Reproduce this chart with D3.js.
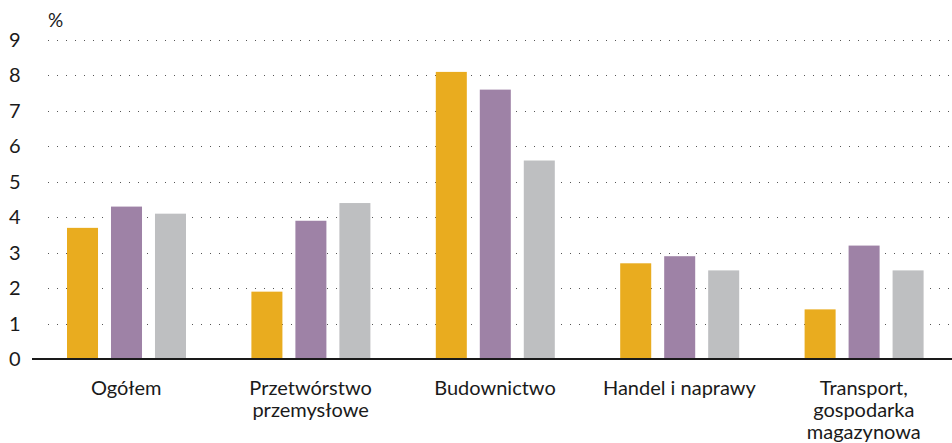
<!DOCTYPE html>
<html>
<head>
<meta charset="utf-8">
<script src="https://cdn.jsdelivr.net/npm/d3@7"></script>
<style>
  body { margin: 0; background: #fff; }
  text { font-family: Lato, "Noto Sans", sans-serif; fill: #1a1a1a; }
</style>
</head>
<body>
<svg id="chart" width="952" height="443"></svg>
<script>
var categories = [
  ["Ogółem"],
  ["Przetwórstwo", "przemysłowe"],
  ["Budownictwo"],
  ["Handel i naprawy"],
  ["Transport,", "gospodarka", "magazynowa"]
];
var seriesNames = ["s1", "s2", "s3"];
var seriesColors = ["#e9ac1f", "#9e82a6", "#bebfc1"];
var values = [
  [3.7, 4.3, 4.1],
  [1.9, 3.9, 4.4],
  [8.1, 7.6, 5.6],
  [2.7, 2.9, 2.5],
  [1.4, 3.2, 2.5]
];
var yTicks = [0, 1, 2, 3, 4, 5, 6, 7, 8, 9];

var svg = d3.select("#chart");

var x = d3.scaleBand()
  .domain(d3.range(categories.length))
  .range([34, 956]);

var inner = d3.scaleBand()
  .domain(seriesNames)
  .range([33, 152])
  .paddingInner(0.295);

var y = d3.scaleLinear()
  .domain([0, 9])
  .range([359, 40]);

// dotted gridlines
svg.append("g")
  .selectAll("line")
  .data(yTicks.filter(function(d) { return d > 0; }))
  .enter().append("line")
  .attr("x1", 48)
  .attr("x2", 952)
  .attr("y1", function(d) { return Math.round(y(d)) + 0.5; })
  .attr("y2", function(d) { return Math.round(y(d)) + 0.5; })
  .attr("stroke", "#555")
  .attr("stroke-width", 1)
  .attr("stroke-dasharray", "1,8");

// tick labels
svg.append("g")
  .selectAll("text")
  .data(yTicks)
  .enter().append("text")
  .attr("x", 9)
  .attr("y", function(d) { return y(d) + 7; })
  .attr("font-size", 20)
  .text(function(d) { return d; });

svg.append("text")
  .attr("x", 48)
  .attr("y", 27)
  .attr("font-size", 19)
  .text("%");

// bars
var groups = svg.append("g")
  .selectAll("g")
  .data(values)
  .enter().append("g")
  .attr("transform", function(d, i) { return "translate(" + x(i) + ",0)"; });

groups.selectAll("rect")
  .data(function(d) { return d; })
  .enter().append("rect")
  .attr("x", function(d, j) { return inner(seriesNames[j]); })
  .attr("width", inner.bandwidth())
  .attr("y", function(d) { return y(d); })
  .attr("height", function(d) { return y(0) - y(d); })
  .attr("fill", function(d, j) { return seriesColors[j]; });

// baseline
svg.append("line")
  .attr("x1", 32)
  .attr("x2", 952)
  .attr("y1", y(0))
  .attr("y2", y(0))
  .attr("stroke", "#1a1a1a")
  .attr("stroke-width", 2);

// category labels
svg.append("g")
  .selectAll("text")
  .data(categories)
  .enter().append("text")
  .attr("text-anchor", "middle")
  .attr("font-size", 20)
  .attr("x", function(d, i) { return x(i) + x.bandwidth() / 2; })
  .attr("y", 395)
  .each(function(lines) {
    var t = d3.select(this);
    var cx = t.attr("x");
    lines.forEach(function(line, k) {
      t.append("tspan")
        .attr("x", cx)
        .attr("dy", k === 0 ? 0 : 22)
        .text(line);
    });
  });
</script>
</body>
</html>
